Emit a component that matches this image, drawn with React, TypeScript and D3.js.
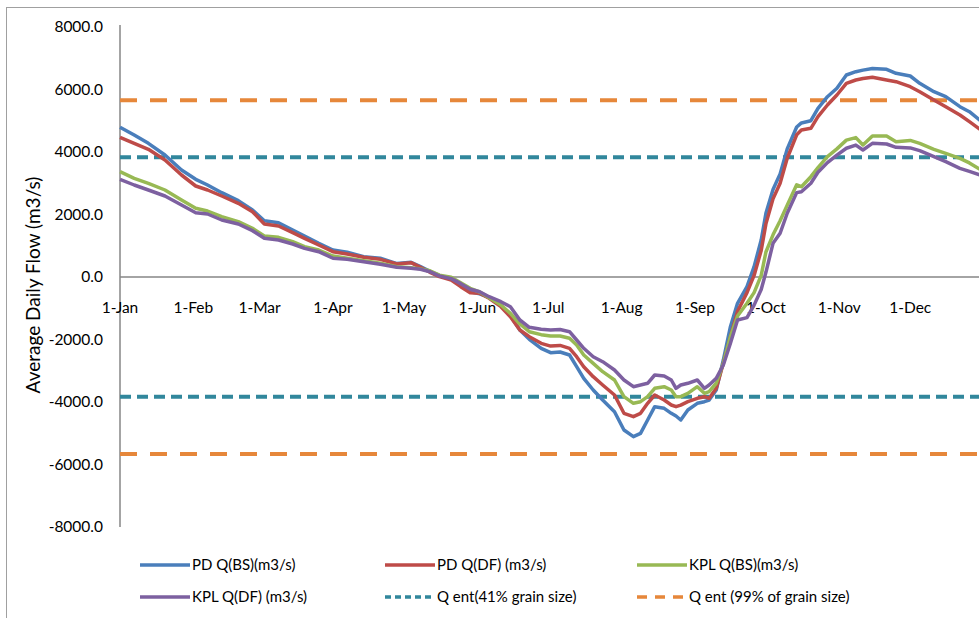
import React from 'react';
import * as d3 from 'd3';

// day of year for each reading
const days = [
  0, 6, 12, 19, 26, 32, 37, 43, 50, 56, 61, 67, 73, 78, 84, 90, 96, 103, 110, 117,
  123, 127, 131, 135, 140, 144, 148, 152, 156, 161, 165, 169, 173, 178, 182, 186, 190, 193, 196, 200,
  204, 209, 213, 217, 220, 223, 226, 230, 233, 235, 237, 240, 244, 247, 249, 252, 255, 258, 261, 265,
  268, 271, 273, 276, 279, 282, 286, 288, 292, 295, 299, 303, 307, 311, 314, 318, 324, 328, 334, 338,
  344, 349, 355, 359, 364,
];

const pdBS = [
  4790, 4544, 4278, 3904, 3424, 3126, 2944, 2698, 2442, 2144, 1802, 1738, 1504, 1312, 1078, 864, 790, 650, 600, 430,
  470, 330, 180, 50, -60, -230, -470, -540, -650, -920, -1230, -1696, -1994, -2282, -2422, -2400, -2496, -2870, -3242, -3616,
  -3936, -4310, -4896, -5110, -5002, -4576, -4150, -4202, -4362, -4448, -4576, -4256, -4042, -3990, -3936, -3616, -2656, -1590, -842, -310,
  330, 1184, 2038, 2800, 3300, 4100, 4800, 4930, 5002, 5398, 5770, 6038, 6464, 6570, 6620, 6670, 6646, 6518, 6432, 6198,
  5930, 5770, 5450, 5290, 4980,
];

const pdDF = [
  4470, 4278, 4086, 3744, 3264, 2912, 2784, 2592, 2358, 2090, 1696, 1632, 1418, 1238, 1024, 810, 736, 630, 566, 416,
  458, 310, 150, 10, -96, -310, -502, -522, -682, -950, -1270, -1696, -1910, -2122, -2210, -2190, -2282, -2550, -2870, -3190,
  -3456, -3776, -4362, -4470, -4362, -4042, -3776, -3936, -4096, -4150, -4100, -3990, -3882, -3830, -3882, -3562, -2762, -1910, -1100, -500,
  50, 850, 1700, 2500, 3000, 3800, 4550, 4704, 4758, 5130, 5504, 5824, 6198, 6304, 6350, 6390, 6304, 6250, 6090, 5930,
  5664, 5450, 5184, 4970, 4700,
];

const kplBS = [
  3370, 3158, 2998, 2784, 2464, 2198, 2112, 1930, 1770, 1557, 1312, 1270, 1130, 970, 864, 672, 600, 520, 440, 330,
  300, 260, 200, 60, -10, -182, -362, -480, -660, -896, -1162, -1504, -1750, -1845, -1888, -1888, -1962, -2176, -2496, -2762,
  -3030, -3296, -3830, -4042, -3990, -3830, -3562, -3510, -3616, -3830, -3830, -3722, -3510, -3722, -3670, -3400, -2762, -1910, -1250, -842,
  -500, 50, 800, 1350, 1800, 2300, 2950, 2890, 3210, 3500, 3850, 4100, 4380, 4460, 4224, 4512, 4512, 4330, 4370, 4278,
  4086, 3958, 3798, 3650, 3420,
];

const kplDF = [
  3126, 2944, 2784, 2592, 2304, 2058, 2016, 1824, 1696, 1482, 1238, 1184, 1056, 917, 810, 600, 566, 490, 406, 310,
  278, 246, 170, 32, -53, -213, -394, -470, -630, -790, -950, -1376, -1610, -1670, -1696, -1680, -1750, -2016, -2282, -2550,
  -2710, -2976, -3296, -3510, -3456, -3402, -3136, -3168, -3296, -3562, -3456, -3402, -3296, -3562, -3456, -3242, -2816, -2122, -1376, -1300,
  -900, -400, 150, 1078, 1400, 2040, 2700, 2730, 3000, 3350, 3660, 3900, 4120, 4220, 4064, 4278, 4256, 4150, 4130, 4042,
  3850, 3690, 3478, 3380, 3250,
];

const grain41 = [3830, -3830];
const grain99 = [5660, -5660];

const monthDays = [0, 31, 59, 90, 120, 151, 181, 212, 243, 273, 304, 334];
const monthLabels = ['1-Jan', '1-Feb', '1-Mar', '1-Apr', '1-May', '1-Jun', '1-Jul', '1-Aug', '1-Sep', '1-Oct', '1-Nov', '1-Dec'];
const yTicks = [8000, 6000, 4000, 2000, 0, -2000, -4000, -6000, -8000];

const series = [
  { name: 'PD Q(BS)(m3/s)', values: pdBS, color: '#4a7ebb' },
  { name: 'PD Q(DF) (m3/s)', values: pdDF, color: '#be4b48' },
  { name: 'KPL Q(BS)(m3/s)', values: kplBS, color: '#98b954' },
  { name: 'KPL Q(DF) (m3/s)', values: kplDF, color: '#7d60a0' },
];

const W = 979;
const H = 618;
const font = 'Lato, "Open Sans", sans-serif';

const App: React.FC = () => {
  const x = d3.scaleLinear().domain([0, 365]).range([120, 983.6]);
  const y = d3.scaleLinear().domain([-8000, 8000]).range([527, 27]);

  const line = d3
    .line<number>()
    .x((_, i) => x(days[i]))
    .y((d) => y(d));

  const legend = [
    { name: series[0].name, color: series[0].color, dash: '', col: 0, row: 0 },
    { name: series[1].name, color: series[1].color, dash: '', col: 1, row: 0 },
    { name: series[2].name, color: series[2].color, dash: '', col: 2, row: 0 },
    { name: series[3].name, color: series[3].color, dash: '', col: 0, row: 1 },
    { name: 'Q ent(41% grain size)', color: '#31879c', dash: '6,4', col: 1, row: 1 },
    { name: 'Q ent (99% of grain size)', color: '#e6873a', dash: '10,8', col: 2, row: 1 },
  ];
  const legendCols = [140, 385, 637];
  const legendRows = [565, 597];

  return (
    <svg width={W} height={H} style={{ position: 'absolute', left: 0, top: 0, background: '#fff' }}>
      <rect x={6.5} y={7.5} width={W + 20} height={H + 20} fill="#fff" stroke="#a0a0a0" strokeWidth={1} />

      {/* axes */}
      <line x1={x(0)} x2={x(0)} y1={y(8000) - 2} y2={y(-8000)} stroke="#868686" strokeWidth={1.5} />
      <line x1={x(0)} x2={W} y1={y(0)} y2={y(0)} stroke="#868686" strokeWidth={1.5} />

      {yTicks.map((t) => (
        <text key={t} x={103} y={y(t)} dy="0.35em" textAnchor="end" fontFamily={font} fontSize={15.5} fill="#000">
          {t.toFixed(1)}
        </text>
      ))}

      {monthDays.map((d, i) => (
        <text key={i} x={x(d)} y={308} dy="0.35em" textAnchor="middle" fontFamily={font} fontSize={15.5} fill="#000">
          {monthLabels[i]}
        </text>
      ))}

      <text
        transform={`translate(33, ${y(0) + 8}) rotate(-90)`}
        textAnchor="middle"
        dy="0.35em"
        fontFamily={font}
        fontSize={19}
        fill="#000"
      >
        Average Daily Flow (m3/s)
      </text>

      {/* threshold lines */}
      {grain99.map((v, i) => (
        <line key={'o' + i} x1={x(0)} x2={W} y1={y(v)} y2={y(v)} stroke="#e6873a" strokeWidth={4} strokeDasharray="17,13" />
      ))}
      {grain41.map((v, i) => (
        <line key={'t' + i} x1={x(0)} x2={W} y1={y(v)} y2={y(v)} stroke="#31879c" strokeWidth={4} strokeDasharray="11,6" />
      ))}

      {series.map((s) => (
        <path key={s.name} d={line(s.values) || ''} fill="none" stroke={s.color} strokeWidth={3.5} strokeLinejoin="round" />
      ))}

      {legend.map((l) => {
        const lx = legendCols[l.col];
        const ly = legendRows[l.row];
        return (
          <g key={l.name}>
            <line x1={lx} x2={lx + 50} y1={ly} y2={ly} stroke={l.color} strokeWidth={3.5} strokeDasharray={l.dash || undefined} />
            <text x={lx + 52} y={ly} dy="0.35em" fontFamily={font} fontSize={15} fill="#000">
              {l.name}
            </text>
          </g>
        );
      })}
    </svg>
  );
};

export default App;
